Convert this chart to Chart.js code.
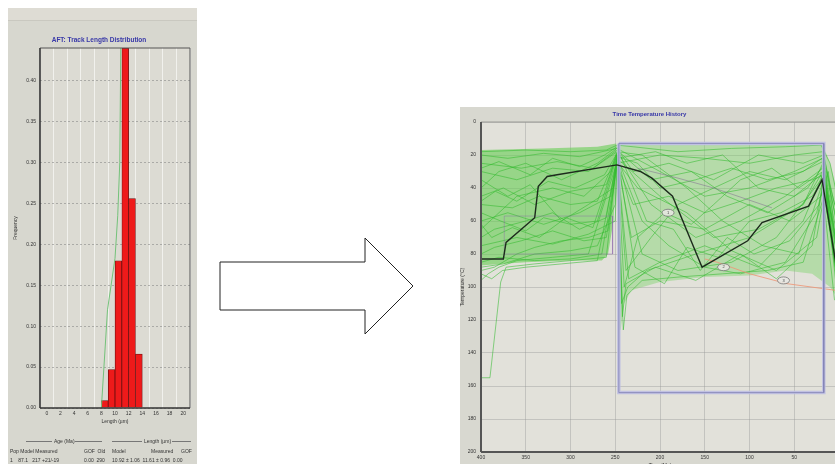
<!DOCTYPE html>
<html>
<head>
<meta charset="utf-8">
<script src="https://cdn.jsdelivr.net/npm/chart.js"></script>
<style>
html, body { margin: 0; padding: 0; width: 835px; height: 464px; overflow: hidden; background: #fff; font-family: "Liberation Sans", Arial, sans-serif; }
#lenPanel { position: absolute; left: 8px; top: 8px; width: 189px; height: 456px; background: #d7d7cf; }
#lenPanel .strip { position: absolute; left: 0; top: 0; width: 189px; height: 12px; background: #dedcd4; border-bottom: 1px solid #c9c8c0; }
#lenChart { position: absolute; left: 8px; top: 8px; }
#ttPanel { position: absolute; left: 460px; top: 107px; width: 390px; height: 370px; background: #d8d8d0; }
#ttChart { position: absolute; left: 460px; top: 107px; }
.tbl { position: absolute; font-size: 5px; color: #333; white-space: pre; line-height: 6px; }
.rule { position: absolute; height: 0; border-top: 1px solid #777; }
#arrow { position: absolute; left: 0; top: 0; }
</style>
</head>
<body>
<div id="lenPanel"><div class="strip"></div></div>
<canvas id="lenChart" width="189" height="456"></canvas>

<div class="rule" style="left:26px; top:441px; width:26px"></div>
<div class="tbl" style="left:54px; top:438px">Age (Ma)</div>
<div class="rule" style="left:75px; top:441px; width:27px"></div>
<div class="rule" style="left:112px; top:441px; width:30px"></div>
<div class="tbl" style="left:144px; top:438px">Length (µm)</div>
<div class="rule" style="left:172px; top:441px; width:19px"></div>
<div class="tbl" style="left:10px; top:448px">Pop Model Measured</div>
<div class="tbl" style="left:84px; top:448px">GOF  Old</div>
<div class="tbl" style="left:112px; top:448px">Model</div>
<div class="tbl" style="left:151px; top:448px">Measured</div>
<div class="tbl" style="left:181px; top:448px">GOF</div>
<div class="tbl" style="left:10px; top:457px">1    87.1   217 +21/-19</div>
<div class="tbl" style="left:84px; top:457px">0.00  290</div>
<div class="tbl" style="left:112px; top:457px">10.92 ± 1.06  11.61 ± 0.96  0.00</div>

<svg id="arrow" width="835" height="464">
  <polygon points="220,262 365,262 365,238 413,286 365,334 365,310 220,310" fill="#fff" stroke="#222" stroke-width="1"/>
</svg>

<div id="ttPanel"></div>
<canvas id="ttChart" width="390" height="370"></canvas>

<script>
// track length histogram (1 µm bins)
var binMid = [8.5, 9.5, 10.5, 11.5, 12.5, 13.5];
var binFreq = [0.009, 0.047, 0.18, 0.44, 0.256, 0.066];
// model curve
var modelLen = [8.0, 8.9, 10.0, 10.4, 10.7, 10.85];
var modelFreq = [0, 0.12, 0.183, 0.235, 0.30, 0.44];

// time-temperature history
var bestTime = [400, 375, 372, 340, 336, 326, 315, 248, 222, 209, 186, 153, 102, 86, 34, 19, 4, 2];
var bestTemp = [83, 83, 73, 58, 39, 33, 32, 26, 30, 34, 45, 88, 72, 61, 51, 35, 84, 95];
var boxTime = [246, 17, 17, 246, 246];
var boxTemp = [13, 13, 164, 164, 13];
var leftBoxTime = [374, 253, 253, 374, 374];
var leftBoxTemp = [57, 57, 80, 80, 57];
var tailTime = [150, 136, 100, 58, 4];
var tailTemp = [83, 85, 92, 98, 102];
var faintTime = [225, 180, 140, 75];
var faintTemp = [28, 34, 40, 52];
var envLeftTime = [400, 330, 270, 249, 249, 252, 258, 265, 300, 350, 380, 400];
var envLeftTemp = [17, 16, 15, 13, 30, 60, 80, 84, 84, 85, 86, 87];
var envRightTime = [247, 200, 100, 30, 18, 10, 4, 0, 0, 10, 30, 60, 100, 150, 200, 232, 240, 244, 246, 247];
var envRightTemp = [13, 14, 14, 14, 14, 25, 38, 45, 108, 100, 92, 90, 93, 94, 97, 102, 110, 126, 126, 60];
var noteTime = [191, 129, 62];
var noteTemp = [55, 88, 96];
var noteText = ['1', '2', '3'];

var greenPaths = [
  [[400,20],[370,22],[330,19],[290,21],[248,16],[200,30],[150,45],[100,40],[50,30],[18,22],[0,60]],
  [[400,30],[360,35],[320,28],[280,30],[248,18],[210,50],[160,70],[110,60],[60,45],[18,28],[0,80]],
  [[400,45],[375,40],[340,50],[300,42],[260,38],[248,20],[220,80],[180,90],[120,85],[70,70],[20,35],[0,95]],
  [[400,60],[370,55],[330,62],[290,55],[255,45],[248,22],[235,95],[200,85],[150,75],[90,88],[40,60],[17,30],[0,100]],
  [[400,75],[360,70],[320,74],[280,68],[250,60],[248,24],[225,40],[170,55],[120,78],[70,90],[25,70],[15,40],[0,105]],
  [[400,85],[380,82],[340,84],[300,83],[265,80],[248,25],[200,20],[150,22],[100,25],[50,20],[18,18],[5,50]],
  [[400,18],[350,17],[300,18],[260,17],[248,14],[230,15],[180,18],[120,16],[60,15],[20,14],[10,25],[0,50]],
  [[400,40],[380,30],[350,25],[310,35],[270,25],[248,16],[230,30],[190,25],[140,35],[90,20],[40,25],[17,20],[0,70]],
  [[400,70],[385,65],[350,60],[320,55],[290,65],[260,58],[248,21],[220,60],[190,75],[150,88],[110,92],[60,85],[25,55],[16,35],[0,90]],
  [[400,50],[365,52],[335,45],[300,50],[270,48],[248,19],[243,110],[236,100],[215,90],[160,80],[100,70],[40,50],[18,25],[3,100]],
  [[400,25],[355,28],[315,24],[275,28],[248,17],[210,35],[165,30],[125,45],[80,55],[35,40],[17,26],[0,85]],
  [[400,88],[375,86],[340,80],[300,78],[270,75],[250,50],[248,23],[232,70],[200,60],[150,65],[100,50],[55,60],[20,45],[12,30],[0,95]],
  [[400,65],[360,45],[320,40],[285,45],[255,30],[248,18],[220,20],[170,40],[130,60],[85,75],[45,80],[19,38],[5,108]],
  [[400,35],[370,45],[345,38],[310,60],[280,50],[252,40],[248,20],[238,90],[210,70],[180,50],[140,40],[100,30],[60,35],[18,24],[0,75]],
  [[400,80],[385,76],[355,72],[320,66],[285,72],[260,70],[248,26],[230,50],[190,45],[150,55],[110,48],[70,40],[30,35],[16,32],[0,88]],
  [[400,96],[392,92],[380,88],[360,84],[320,82],[280,80],[248,24],[241,126],[237,105],[220,96],[180,94],[130,92],[80,90],[40,85],[15,42],[0,108]],
  [[400,155],[390,155],[378,97],[372,88],[340,86],[300,84],[260,82],[248,22],[200,45],[140,70],[90,65],[40,50],[18,30],[0,98]],
  [[400,55],[378,60],[350,66],[330,58],[300,62],[270,60],[248,21],[225,25],[200,40],[160,35],[120,28],[80,35],[40,30],[19,22],[8,60]],
  [[400,90],[385,88],[360,80],[340,76],[310,72],[280,70],[258,66],[248,22],[205,18],[170,25],[130,20],[90,40],[50,45],[20,32],[0,102]],
  [[400,92],[388,95],[376,90],[350,88],[310,86],[270,84],[248,23],[242,118],[238,98],[205,88],[160,96],[110,80],[70,95],[30,75],[17,36],[0,104]],
  [[400,28],[380,24],[345,32],[320,22],[290,27],[262,20],[248,15],[215,60],[185,65],[155,90],[125,70],[95,80],[55,72],[22,50],[16,28],[0,66]],
  [[400,48],[384,42],[360,48],[325,36],[295,40],[262,32],[248,19],[228,88],[195,98],[170,76],[135,82],[100,60],[65,55],[30,45],[17,34],[2,92]],
  [[400,62],[388,70],[365,64],[335,70],[305,58],[275,64],[248,20],[240,100],[225,70],[195,55],[165,62],[140,50],[110,35],[75,28],[45,40],[18,30],[0,82]]
];

function pts(xs, ys) {
  return xs.map(function(x, i) { return {x: x, y: ys[i]}; });
}

function framePlugin(bg, edges) {
  return {
    id: 'frame',
    beforeDraw: function(chart) {
      var a = chart.chartArea, c = chart.ctx;
      c.save();
      c.fillStyle = bg;
      c.fillRect(a.left, a.top, a.right - a.left, a.bottom - a.top);
      c.restore();
    },
    afterDraw: function(chart) {
      var a = chart.chartArea, c = chart.ctx;
      c.save();
      edges.forEach(function(e) {
        c.strokeStyle = e[1];
        c.lineWidth = e[2];
        c.beginPath();
        if (e[0] === 'left') { c.moveTo(a.left, a.top); c.lineTo(a.left, a.bottom); }
        if (e[0] === 'right') { c.moveTo(a.right, a.top); c.lineTo(a.right, a.bottom); }
        if (e[0] === 'top') { c.moveTo(a.left, a.top); c.lineTo(a.right, a.top); }
        if (e[0] === 'bottom') { c.moveTo(a.left, a.bottom); c.lineTo(a.right, a.bottom); }
        c.stroke();
      });
      c.restore();
    }
  };
}

var tickFont = {family: 'Liberation Sans', size: 5};

new Chart(document.getElementById('lenChart'), {
  type: 'bar',
  data: {
    datasets: [
      {
        type: 'line',
        data: pts(modelLen, modelFreq),
        borderColor: '#74c27a',
        borderWidth: 1,
        pointRadius: 0,
        order: 0
      },
      {
        type: 'bar',
        data: pts(binMid, binFreq),
        backgroundColor: '#ee1a1a',
        borderColor: '#6e1010',
        borderWidth: 0.8,
        barPercentage: 1,
        categoryPercentage: 1,
        grouped: false,
        order: 1
      }
    ]
  },
  options: {
    responsive: false,
    animation: false,
    layout: {padding: {left: 0, right: 7, top: 0, bottom: 0}},
    plugins: {
      legend: {display: false},
      tooltip: {enabled: false},
      title: {
        display: true,
        text: 'AFT: Track Length Distribution',
        color: '#3838a8',
        font: {family: 'Liberation Sans', size: 6.5, weight: 'bold'},
        padding: {top: 28.5, bottom: 3.7}
      }
    },
    scales: {
      x: {
        type: 'linear', min: 0, max: 20,
        ticks: {stepSize: 2, font: tickFont, color: '#333', padding: 3, maxRotation: 0},
        grid: {color: 'rgba(255,255,255,0.6)', drawTicks: false},
        border: {display: false},
        title: {display: true, text: 'Length (µm)', font: tickFont, color: '#333', padding: {top: 0, bottom: 39}},
        afterFit: function(s) { s.height = 56; }
      },
      y: {
        min: 0, max: 0.44,
        ticks: {stepSize: 0.05, font: tickFont, color: '#333', padding: 4, callback: function(v) { return v.toFixed(2); }},
        afterBuildTicks: function(s) { s.ticks = s.ticks.filter(function(t) { return t.value <= 0.4001; }); },
        grid: {color: 'rgba(130,130,130,0.55)', drawTicks: false},
        border: {display: false, dash: [2, 2]},
        title: {display: true, text: 'Frequency', font: tickFont, color: '#333', padding: {top: 5, bottom: 0}},
        afterFit: function(s) { s.width = 32; }
      }
    }
  },
  plugins: [framePlugin('#dcdbd3', [['top', '#555', 1], ['right', '#555', 1], ['left', '#333', 1.6], ['bottom', '#333', 1.6]])]
});

var ttSets = [];
ttSets.push({data: pts(bestTime, bestTemp), borderColor: '#1d2b1d', borderWidth: 1.4, order: 0});
ttSets.push({data: pts(boxTime, boxTemp), borderColor: '#8080b4', borderWidth: 0.8, order: 1});
ttSets.push({data: pts(boxTime, boxTemp), borderColor: 'rgba(190,190,226,0.9)', borderWidth: 3.5, order: 2});
ttSets.push({data: pts(leftBoxTime, leftBoxTemp), borderColor: 'rgba(140,100,170,0.4)', borderWidth: 1, order: 3});
ttSets.push({data: pts(tailTime, tailTemp), borderColor: 'rgba(238,150,120,0.85)', borderWidth: 1, order: 3});
ttSets.push({data: pts(faintTime, faintTemp), borderColor: 'rgba(120,90,140,0.45)', borderWidth: 1, order: 3});
greenPaths.forEach(function(p) {
  ttSets.push({
    data: p.map(function(q) { return {x: q[0], y: q[1]}; }),
    borderColor: 'rgba(50,185,45,0.55)', borderWidth: 1, order: 4
  });
});
ttSets.push({data: pts(envLeftTime, envLeftTemp), fill: 'shape', borderWidth: 0, backgroundColor: 'rgba(105,205,85,0.62)', order: 5});
ttSets.push({data: pts(envRightTime, envRightTemp), fill: 'shape', borderWidth: 0, backgroundColor: 'rgba(115,210,95,0.4)', order: 5});

var notesPlugin = {
  id: 'notes',
  afterDatasetsDraw: function(chart) {
    var c = chart.ctx, sx = chart.scales.x, sy = chart.scales.y;
    c.save();
    for (var i = 0; i < noteTime.length; i++) {
      var px = sx.getPixelForValue(noteTime[i]), py = sy.getPixelForValue(noteTemp[i]);
      c.beginPath();
      c.ellipse(px, py, 6, 3.5, 0, 0, 2 * Math.PI);
      c.fillStyle = 'rgba(232,232,226,0.9)';
      c.fill();
      c.strokeStyle = '#777';
      c.lineWidth = 0.8;
      c.stroke();
      c.fillStyle = '#444';
      c.font = '4px "Liberation Sans"';
      c.textAlign = 'center';
      c.textBaseline = 'middle';
      c.fillText(noteText[i], px, py);
    }
    c.restore();
  }
};

new Chart(document.getElementById('ttChart'), {
  type: 'line',
  data: {datasets: ttSets},
  options: {
    responsive: false,
    animation: false,
    elements: {point: {radius: 0}, line: {tension: 0}},
    layout: {padding: {left: 0, right: 11, top: 0, bottom: 0}},
    plugins: {
      legend: {display: false},
      tooltip: {enabled: false},
      title: {
        display: true,
        text: 'Time Temperature History',
        color: '#3838a8',
        font: {family: 'Liberation Sans', size: 6, weight: 'bold'},
        padding: {top: 4, bottom: 3.8}
      }
    },
    scales: {
      x: {
        type: 'linear', min: 0, max: 400, reverse: true,
        ticks: {stepSize: 50, font: tickFont, color: '#333', padding: 3, maxRotation: 0},
        grid: {color: 'rgba(150,150,150,0.4)', drawTicks: false},
        border: {display: false},
        title: {display: true, text: 'Time (Ma)', font: tickFont, color: '#333', padding: {top: 0, bottom: 8}},
        afterFit: function(s) { s.height = 25; }
      },
      y: {
        min: 0, max: 200, reverse: true,
        ticks: {stepSize: 20, font: tickFont, color: '#333', padding: 5},
        grid: {color: 'rgba(150,150,150,0.4)', drawTicks: false},
        border: {display: false},
        title: {display: true, text: 'Temperature (°C)', font: tickFont, color: '#333', padding: {top: 0, bottom: 0}},
        afterFit: function(s) { s.width = 21; }
      }
    }
  },
  plugins: [framePlugin('#e2e1da', [['top', '#9a9a96', 1], ['left', '#555', 2], ['bottom', '#555', 2]]), notesPlugin]
});
</script>
</body>
</html>
